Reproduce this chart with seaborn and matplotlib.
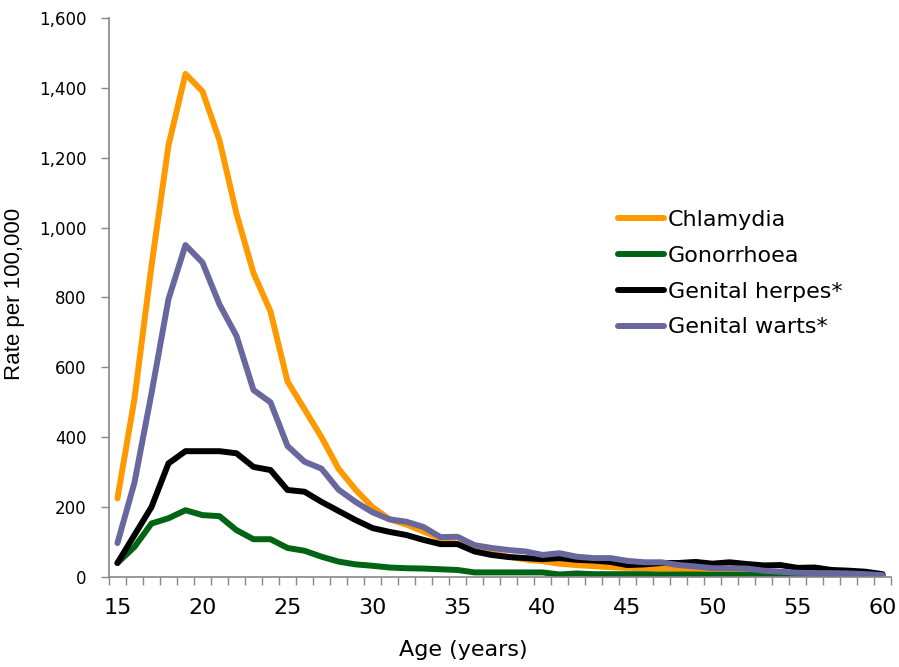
import pandas as pd
import matplotlib
matplotlib.use("Agg")
import matplotlib.pyplot as plt
import seaborn as sns
from matplotlib.ticker import FuncFormatter, MultipleLocator, FixedLocator

# data
ages = list(range(15, 61))
chlamydia = [225, 510, 890, 1235, 1440, 1390, 1250, 1040, 870, 760,
             560, 480, 400, 310, 250, 200, 165, 150, 130, 110,
             95, 80, 68, 58, 50, 45, 38, 34, 31, 28,
             26, 25, 24, 23, 20, 17, 15, 13, 11, 9,
             8, 7, 6, 5, 5, 4]
gonorrhoea = [40, 86, 153, 168, 191, 177, 174, 134, 108, 108,
              83, 75, 58, 44, 36, 32, 27, 25, 24, 22,
              20, 13, 13, 13, 13, 13, 7, 10, 8, 8,
              8, 8, 7, 7, 7, 6, 6, 6, 5, 5,
              5, 5, 4, 4, 4, 4]
herpes = [40, 120, 200, 325, 360, 360, 360, 354, 315, 306,
          249, 244, 215, 189, 163, 140, 129, 120, 106, 94,
          94, 73, 63, 57, 54, 51, 54, 49, 47, 43,
          34, 36, 40, 40, 43, 38, 42, 37, 33, 34,
          26, 27, 20, 18, 15, 8]
warts = [97, 270, 525, 795, 950, 900, 780, 690, 535, 500,
         375, 330, 310, 250, 215, 185, 165, 158, 143, 114,
         115, 91, 83, 77, 73, 63, 68, 58, 54, 54,
         46, 42, 42, 34, 30, 25, 25, 24, 18, 15,
         12, 11, 11, 10, 8, 5]

series_names = ["Chlamydia", "Gonorrhoea", "Genital herpes*", "Genital warts*"]
colors = ["#FF9900", "#006414", "#000000", "#68689E"]
x_labels = [15, 20, 25, 30, 35, 40, 45, 50, 55, 60]

frames = []
for name, vals in zip(series_names, [chlamydia, gonorrhoea, herpes, warts]):
    frames.append(pd.DataFrame({"Age": ages, "Rate": vals, "Infection": name}))
df = pd.concat(frames, ignore_index=True)

sns.set_style("white", {"text.color": "black", "axes.labelcolor": "black",
                        "xtick.color": "black", "ytick.color": "black"})
plt.rcParams['font.family'] = ['DejaVu Sans']

fig = plt.figure(figsize=(8.99, 6.67), dpi=100)
ax = fig.add_axes([0.1212, 0.135, 0.870, 0.838])

sns.lineplot(data=df, x="Age", y="Rate", hue="Infection",
             hue_order=series_names, palette=colors, linewidth=4.3,
             ax=ax, legend=True)

ax.set_xlim(14.5, 60.5)
ax.set_ylim(0, 1600)

# y axis
ax.yaxis.set_major_locator(MultipleLocator(200))
ax.yaxis.set_major_formatter(FuncFormatter(lambda v, p: f"{int(v):,}"))
ax.tick_params(axis='y', labelsize=12, length=6, width=1, color='#888888',
               labelcolor='black', direction='out', left=True, pad=10)

# x axis: labels every 5 years, tick marks between the yearly categories
ax.set_xticks(x_labels, [str(v) for v in x_labels],
              fontfamily=['Liberation Sans Narrow', 'DejaVu Sans'], fontsize=16)
ax.xaxis.set_minor_locator(FixedLocator([a + 0.5 for a in range(14, 61)]))
ax.tick_params(axis='x', which='major', length=0, pad=15, labelcolor='black')
ax.tick_params(axis='x', which='minor', length=6, width=1, color='#888888',
               direction='out', bottom=True)

sns.despine(ax=ax)
for s in ['left', 'bottom']:
    ax.spines[s].set_color('#888888')
    ax.spines[s].set_linewidth(1.2)

ax.set_xlabel("Age (years)", fontsize=16, labelpad=16, x=0.453, color='black')
ax.set_ylabel("Rate per 100,000", fontsize=16, labelpad=10, y=0.506,
              color='black', fontfamily=['Liberation Sans', 'DejaVu Sans'])

leg = ax.legend(loc='upper left', bbox_to_anchor=(0.625, 0.692), frameon=False,
                fontsize=16, handlelength=2.1, handletextpad=0.15,
                labelspacing=0.71)

fig.savefig("out.png", dpi=100)
